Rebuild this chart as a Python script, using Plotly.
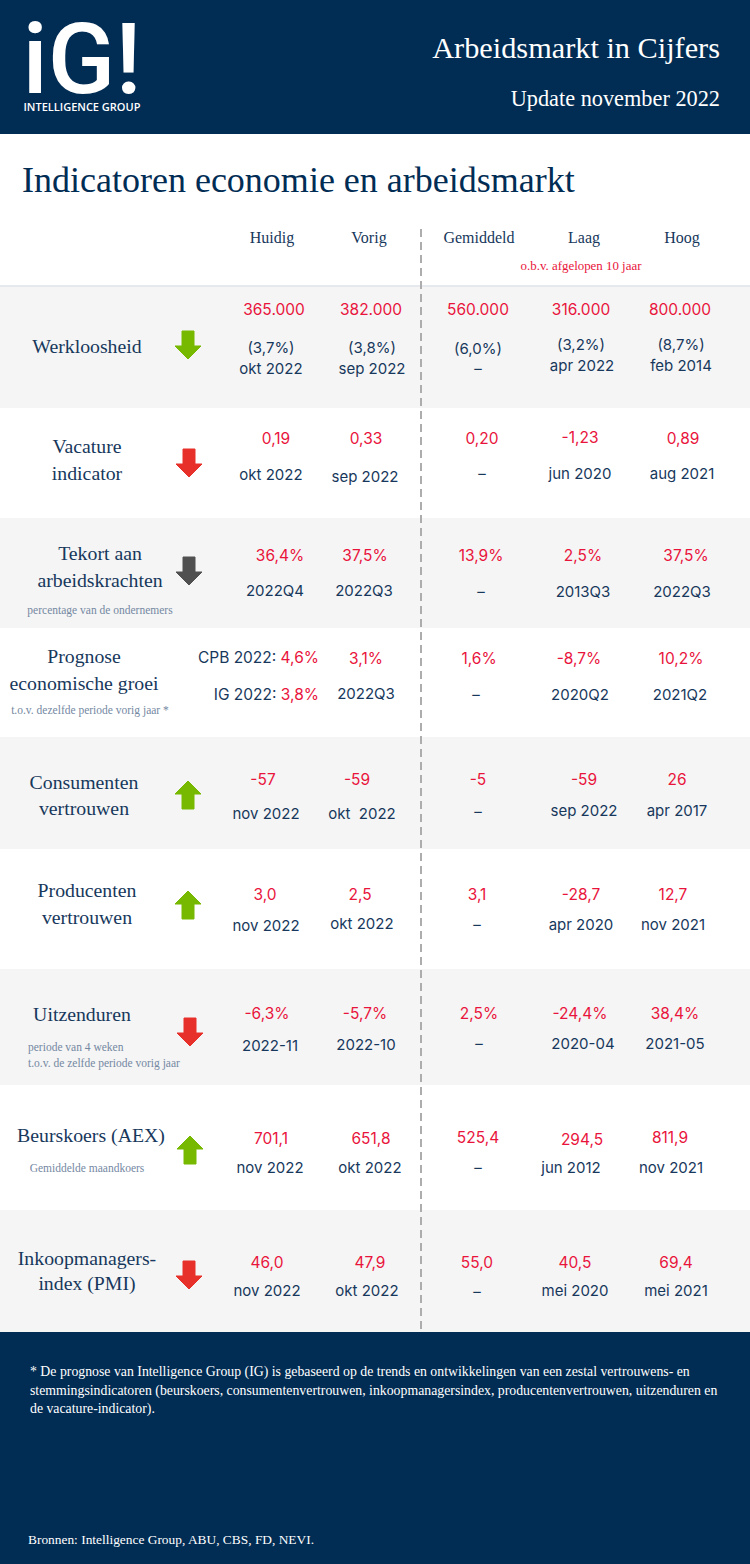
import plotly.graph_objects as go

# ---------- content ----------
labels = [["Werkloosheid"], ["Vacature", "indicator"], ["Tekort aan", "arbeidskrachten"],
          ["Prognose", "economische groei"], ["Consumenten", "vertrouwen"], ["Producenten", "vertrouwen"],
          ["Uitzenduren"], ["Beurskoers (AEX)"], ["Inkoopmanagers-", "index (PMI)"]]
sublabels = ["percentage van de ondernemers", "t.o.v. dezelfde periode vorig jaar *",
             "periode van 4 weken", "t.o.v. de zelfde periode vorig jaar", "Gemiddelde maandkoers"]
headers = ["Huidig", "Vorig", "Gemiddeld", "Laag", "Hoog"]

huidig = ["365.000", "0,19", "36,4%", "4,6%", "-57", "3,0", "-6,3%", "701,1", "46,0"]
vorig = ["382.000", "0,33", "37,5%", "3,1%", "-59", "2,5", "-5,7%", "651,8", "47,9"]
gemiddeld = ["560.000", "0,20", "13,9%", "1,6%", "-5", "3,1", "2,5%", "525,4", "55,0"]
laag = ["316.000", "-1,23", "2,5%", "-8,7%", "-59", "-28,7", "-24,4%", "294,5", "40,5"]
hoog = ["800.000", "0,89", "37,5%", "10,2%", "26", "12,7", "38,4%", "811,9", "69,4"]

huidig_data = ["okt 2022", "okt 2022", "2022Q4", "3,8%", "nov 2022", "nov 2022", "2022-11", "nov 2022", "nov 2022"]
vorig_data = ["sep 2022", "sep 2022", "2022Q3", "2022Q3", "okt  2022", "okt 2022", "2022-10", "okt 2022", "okt 2022"]
gemiddeld_data = ["–"] * 9
laag_data = ["apr 2022", "jun 2020", "2013Q3", "2020Q2", "sep 2022", "apr 2020", "2020-04", "jun 2012", "mei 2020"]
hoog_data = ["feb 2014", "aug 2021", "2022Q3", "2021Q2", "apr 2017", "nov 2021", "2021-05", "nov 2021", "mei 2021"]

werkloos_pct = ["(3,7%)", "(3,8%)", "(6,0%)", "(3,2%)", "(8,7%)"]
trend = ["down-good", "down-bad", "down-flat", None, "up-good", "up-good", "down-bad", "up-good", "down-bad"]

footnote = ["* De prognose van Intelligence Group (IG) is gebaseerd op de trends en ontwikkelingen van een zestal vertrouwens- en",
            "stemmingsindicatoren (beurskoers, consumentenvertrouwen, inkoopmanagersindex, producentenvertrouwen, uitzenduren en",
            "de vacature-indicator)."]

# ---------- layout ----------
NAVY, INK, RED, BAND, MUTED = "#012c54", "#17385c", "#e9143c", "#f5f5f5", "#7488a2"
SERIF, SANS = "Liberation Serif", "Inter"
ARROW = {"down-good": "#76b900", "up-good": "#76b900", "down-bad": "#e8302a", "down-flat": "#505050"}
DY = 1.5

bands = [287, 408, 518, 628, 737, 849, 969, 1085, 1210, 1332]
val_x = [[274, 276, 280, None, 263, 265, 267, 271, 267],
         [371, 366, 365, 366, 357, 360, 365, 371, 370],
         [478, 482, 481, 479, 478, 477, 479, 478, 477],
         [581, 580, 583, 579, 584, 581, 580, 582, 575],
         [680, 683, 686, 681, 677, 673, 675, 670, 676]]
val_y = [[310, 439, 556, 658, 780, 895, 1014, 1139, 1263],
         [310, 439, 556, 659, 780, 895, 1014, 1139, 1263],
         [310, 439, 556, 659, 780, 895, 1014, 1138, 1263],
         [310, 438, 556, 659, 780, 895, 1014, 1140, 1263],
         [310, 439, 556, 659, 780, 895, 1014, 1138, 1263]]
date_x = [[271, 271, 275, None, 266, 266, 270, 270, 267],
          [372, 365, 364, 366, 362, 362, 366, 370, 367],
          [478, 482, 481, 476, 478, 477, 479, 478, 477],
          [582, 580, 583, 580, 584, 581, 583, 571, 575],
          [681, 682, 682, 680, 677, 673, 675, 671, 676]]
date_y = [[369, 475, 591, 695, 814, 926, 1046, 1168, 1291],
          [369, 477, 591, 694, 814, 924, 1045, 1168, 1291],
          [369, 474, 592, 695, 812, 925, 1044, 1168, 1292],
          [366, 474, 592, 695, 811, 925, 1044, 1168, 1291],
          [366, 474, 592, 695, 811, 925, 1044, 1168, 1291]]
pct_x = [271, 372, 478, 581, 681]
pct_y = [348, 348, 349, 345, 345]
label_x = [87, 87, 100, 84, 84, 87, 82, 91, 87]
label_y = [[347], [447, 474], [554, 581], [657, 684], [783, 809], [891, 918], [1015], [1136], [1259, 1284]]
sub_pos = [(100, 610, "middle center"), (90, 710, "middle center"), (28, 1047, "middle right"),
           (28, 1063, "middle right"), (87, 1168, "middle center")]
head_x = [272, 369, 479, 584, 682]
arrow_xy = [(188, 345), (189, 463), (189, 571), None, (188, 795), (188, 905), (190, 1032), (190, 1150), (189, 1275)]

fig = go.Figure()


def text(xs, ys, texts, size, color, family, pos="middle center", weight=None):
    font = dict(size=size, color=color, family=family)
    if weight:
        font["weight"] = weight
    fig.add_trace(go.Scatter(x=xs, y=[y + DY for y in ys], text=texts, mode="text", textposition=pos,
                             cliponaxis=False, hoverinfo="skip", showlegend=False, textfont=font))


def rect(y0, y1, color):
    fig.add_shape(type="rect", x0=0, x1=750, y0=y0, y1=y1, fillcolor=color, line_width=0, layer="below")


# backgrounds
rect(0, 134, NAVY)
rect(1332, 1564, NAVY)
for i in range(0, 9, 2):
    rect(bands[i], bands[i + 1], BAND)
fig.add_shape(type="line", x0=0, x1=750, y0=286, y1=286, line=dict(color="#ccd3dc", width=1))
fig.add_shape(type="line", x0=421, x1=421, y0=229, y1=1332, line=dict(color="#adadad", width=2, dash="8px,5px"))

# header
text([82], [67], ["iG!"], 99, "white", "Roboto", weight=500)
text([82], [107], ["INTELLIGENCE GROUP"], 11, "white", "Open Sans", weight=600)
text([720], [49], ["Arbeidsmarkt in Cijfers"], 30.3, "white", SERIF, "middle left")
text([720], [99], ["Update november 2022"], 22.3, "white", SERIF, "middle left")
text([22], [181], ["Indicatoren economie en arbeidsmarkt"], 36, NAVY, SERIF, "middle right")

text(head_x, [237] * 5, headers, 16, INK, SERIF)
text([581], [265], ["o.b.v. afgelopen 10 jaar"], 12.9, RED, SERIF)

# row labels
for x, ys, lines in zip(label_x, label_y, labels):
    text([x] * len(lines), ys, lines, 19.8, INK, SERIF)
for (x, y, p), s in zip(sub_pos, sublabels):
    text([x], [y], [s], 11.5, MUTED, SERIF, p)

# arrows
for xy, t in zip(arrow_xy, trend):
    if xy is None:
        continue
    cx, cy = xy
    s = 1 if t.startswith("down") else -1
    pts = [(-6, -14), (6, -14), (6, 1), (13, 1), (0, 14), (-13, 1), (-6, 1)]
    path = "M" + "L".join(f"{cx + dx},{cy + s * dy}" for dx, dy in pts) + "Z"
    fig.add_shape(type="path", path=path, fillcolor=ARROW[t], line=dict(color=ARROW[t], width=1))

# values
columns = [huidig, vorig, gemiddeld, laag, hoog]
dates = [huidig_data, vorig_data, gemiddeld_data, laag_data, hoog_data]
for c in range(5):
    rows = [r for r in range(9) if val_x[c][r] is not None]
    text([val_x[c][r] for r in rows], [val_y[c][r] for r in rows], [columns[c][r] for r in rows], 15.5, RED, SANS)
    rows = [r for r in range(9) if date_x[c][r] is not None]
    text([date_x[c][r] for r in rows], [date_y[c][r] for r in rows], [dates[c][r] for r in rows], 15, INK, SANS)
text(pct_x, pct_y, werkloos_pct, 15, INK, SANS)

# Prognose row: two labelled forecasts
red = f'<span style="color:{RED}">%s</span>'
text([319, 319], [658, 695],
     ["CPB 2022: " + red % huidig[3], "IG 2022: " + red % huidig_data[3]], 15.5, INK, SANS, "middle left")

# footer
text([30] * 3, [1371, 1390, 1408], footnote, 13.8, "white", SERIF, "middle right")
text([28], [1539], ["Bronnen: Intelligence Group, ABU, CBS, FD, NEVI."], 13.4, "white", SERIF, "middle right")

fig.update_layout(width=750, height=1564, margin=dict(l=0, r=0, t=0, b=0), showlegend=False,
                  paper_bgcolor="white", plot_bgcolor="white",
                  xaxis=dict(range=[0, 750], visible=False, fixedrange=True),
                  yaxis=dict(range=[1564, 0], visible=False, fixedrange=True))
fig.write_html("out.html", config={"displayModeBar": False},
               post_script="document.body.style.margin='0';document.documentElement.style.overflow='hidden';")
